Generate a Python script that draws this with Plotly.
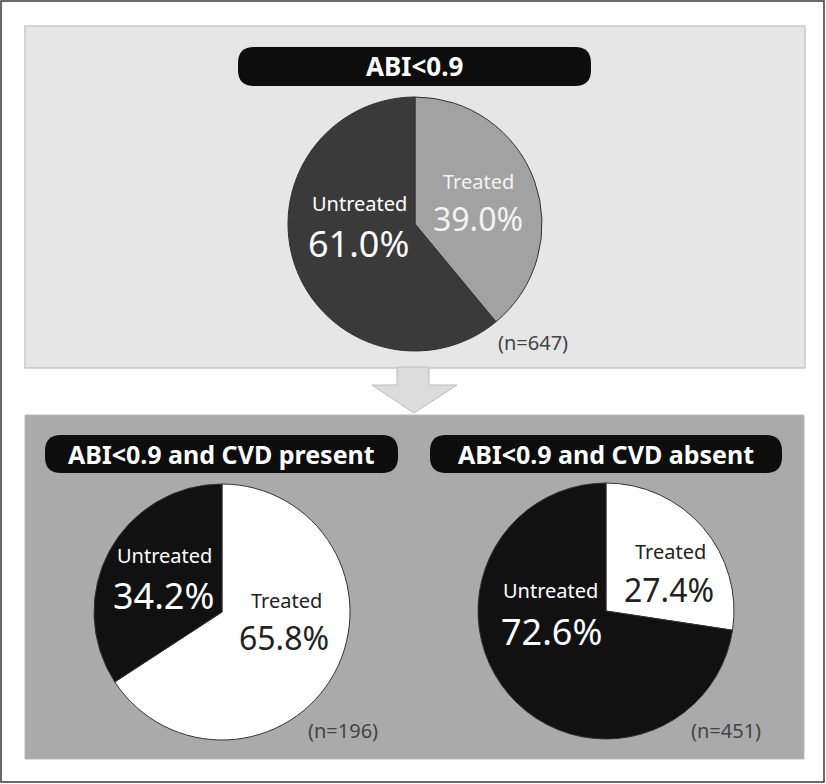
import plotly.graph_objects as go

# dados
categorias = ["Treated", "Untreated"]
titulos = ["ABI<0.9", "ABI<0.9 and CVD present", "ABI<0.9 and CVD absent"]
valores_total = [39.0, 61.0]
valores_cvd_presente = [65.8, 34.2]
valores_cvd_ausente = [27.4, 72.6]
n_amostras = [647, 196, 451]

W, H = 826, 784
FONTE = "Noto Sans"


def dominio(cx, cy, r):
    # converte centro/raio em pixels para domínio do papel
    return dict(x=[(cx - r) / W, (cx + r) / W],
                y=[1 - (cy + r) / H, 1 - (cy - r) / H])


def pilula(x0, y0, x1, y1, r=14):
    return (f"M{x0 + r},{y0} L{x1 - r},{y0} Q{x1},{y0} {x1},{y0 + r} "
            f"L{x1},{y1 - r} Q{x1},{y1} {x1 - r},{y1} L{x0 + r},{y1} "
            f"Q{x0},{y1} {x0},{y1 - r} L{x0},{y0 + r} Q{x0},{y0} {x0 + r},{y0} Z")


fig = go.Figure()

pizzas = [
    (valores_total, ["#a2a2a2", "#3a3a3a"], (415, 224, 127)),
    (valores_cvd_presente, ["#ffffff", "#111111"], (222, 612, 128)),
    (valores_cvd_ausente, ["#ffffff", "#111111"], (606, 611, 128)),
]
for vals, cores, (cx, cy, r) in pizzas:
    fig.add_trace(go.Pie(
        labels=categorias,
        values=vals,
        sort=False,
        direction="clockwise",
        rotation=0,
        marker=dict(colors=cores, line=dict(color="#333333", width=1)),
        textinfo="none",
        hoverinfo="label+percent",
        domain=dominio(cx, cy, r),
        showlegend=False,
    ))

# eixos invisíveis em pixels para formas e textos
fig.add_trace(go.Scatter(x=[0, W], y=[0, H], mode="markers",
                         marker=dict(opacity=0), hoverinfo="skip", showlegend=False))

shapes = [
    # moldura externa
    dict(type="rect", x0=1, y0=1, x1=W - 2, y1=H - 2,
         line=dict(color="#3a3a3a", width=1.5), fillcolor="white", layer="below"),
    # painel superior
    dict(type="rect", x0=25, y0=26, x1=805, y1=368,
         line=dict(color="#c9c9c9", width=1.5), fillcolor="#e6e6e6", layer="below"),
    # painel inferior
    dict(type="rect", x0=25, y0=415, x1=804, y1=759,
         line=dict(color="#b8b8b8", width=1), fillcolor="#aaaaaa", layer="below"),
    # seta
    dict(type="path", path="M397,367 L397,385 L372,385 L414,413 L457,385 L429,385 L429,367 Z",
         line=dict(color="#bdbdbd", width=1), fillcolor="#dcdcdc", layer="below"),
    # pílulas dos títulos
    dict(type="path", path=pilula(238, 47, 591, 86, 16), fillcolor="#0d0d0d",
         line=dict(width=0), layer="below"),
    dict(type="path", path=pilula(45, 435, 398, 473, 16), fillcolor="#0d0d0d",
         line=dict(width=0), layer="below"),
    dict(type="path", path=pilula(430, 435, 782, 473, 16), fillcolor="#0d0d0d",
         line=dict(width=0), layer="below"),
]

anotacoes = []


def texto(x, y, t, tam, cor, peso="normal", familia=FONTE):
    anotacoes.append(dict(x=x, y=y, text=t, showarrow=False, xanchor="center",
                          yanchor="middle", borderpad=0,
                          font=dict(size=tam, color=cor, family=familia, weight=peso)))


texto(414, 66, titulos[0], 26, "white", "bold")
texto(221, 454, titulos[1], 25, "white", "bold")
texto(606, 454, titulos[2], 25, "white", "bold")

# pizza superior
texto(359, 203, categorias[1], 20, "white")
texto(358, 243, f"{valores_total[1]:.1f}%", 36, "white")
texto(478, 181, categorias[0], 20, "#f2f2f2")
texto(478, 218, f"{valores_total[0]:.1f}%", 32, "#f2f2f2")
texto(533, 342, f"(n={n_amostras[0]})", 20, "#444444")

# pizza CVD presente
texto(164, 555, categorias[1], 20, "white")
texto(163, 595, f"{valores_cvd_presente[1]:.1f}%", 36, "white")
texto(286, 600, categorias[0], 20, "#222222")
texto(284, 637, f"{valores_cvd_presente[0]:.1f}%", 32, "#222222")
texto(343, 730, f"(n={n_amostras[1]})", 20, "#444444")

# pizza CVD ausente
texto(670, 551, categorias[0], 20, "#222222")
texto(669, 589, f"{valores_cvd_ausente[0]:.1f}%", 32, "#222222")
texto(550, 590, categorias[1], 20, "white")
texto(551, 631, f"{valores_cvd_ausente[1]:.1f}%", 36, "white")
texto(726, 730, f"(n={n_amostras[2]})", 20, "#444444")

fig.update_layout(
    width=W,
    height=H,
    margin=dict(l=0, r=0, t=0, b=0),
    paper_bgcolor="white",
    plot_bgcolor="rgba(0,0,0,0)",
    xaxis=dict(range=[0, W], visible=False, fixedrange=True),
    yaxis=dict(range=[H, 0], visible=False, fixedrange=True),
    shapes=shapes,
    annotations=anotacoes,
    font=dict(family=FONTE),
)

fig.write_html("out.html", config={"displayModeBar": False},
               post_script="document.body.style.margin='0';")
